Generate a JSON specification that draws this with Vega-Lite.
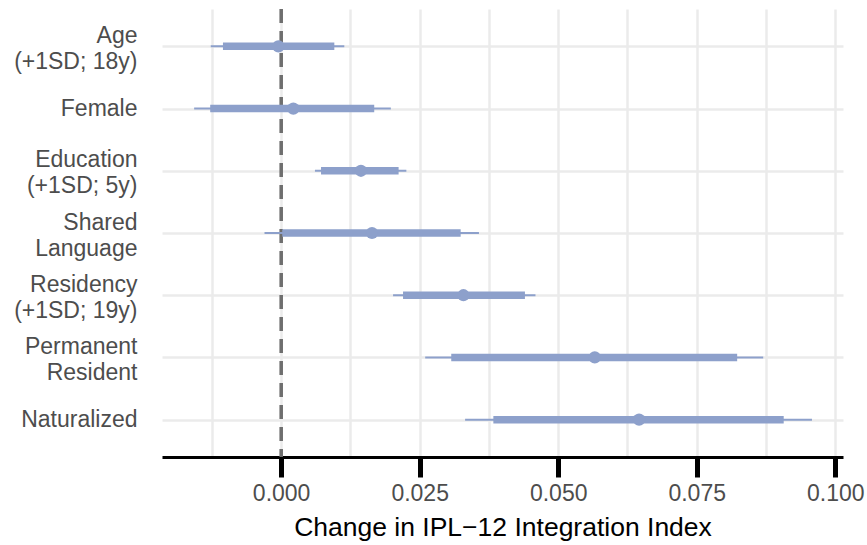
{
  "$schema": "https://vega.github.io/schema/vega-lite/v6.json",
  "width": 681,
  "height": 448,
  "autosize": "none",
  "padding": {"left": 162, "top": 9, "right": 24, "bottom": 88},
  "background": "white",
  "config": {
    "view": {"stroke": null},
    "font": "Liberation Sans"
  },
  "data": {
    "values": [
      {"term": "Age\u00a0|(+1SD; 18y)", "est": -0.0005, "lo95": -0.0127, "hi95": 0.0114, "lo90": -0.0105, "hi90": 0.0096},
      {"term": "Female", "est": 0.0022, "lo95": -0.0157, "hi95": 0.0198, "lo90": -0.0128, "hi90": 0.0168},
      {"term": "Education\u00a0|(+1SD; 5y)", "est": 0.0144, "lo95": 0.0061, "hi95": 0.0226, "lo90": 0.0072, "hi90": 0.0212},
      {"term": "Shared\u00a0|Language", "est": 0.0164, "lo95": -0.0030, "hi95": 0.0357, "lo90": 0.0002, "hi90": 0.0324},
      {"term": "Residency\u00a0|(+1SD; 19y)", "est": 0.0329, "lo95": 0.0202, "hi95": 0.0459, "lo90": 0.0220, "hi90": 0.0440},
      {"term": "Permanent\u00a0|Resident", "est": 0.0566, "lo95": 0.0260, "hi95": 0.0870, "lo90": 0.0307, "hi90": 0.0823},
      {"term": "Naturalized", "est": 0.0646, "lo95": 0.0332, "hi95": 0.0958, "lo90": 0.0383, "hi90": 0.0907}
    ]
  },
  "encoding": {
    "y": {
      "field": "term",
      "type": "nominal",
      "sort": null,
      "scale": {"type": "point", "padding": 0.6},
      "axis": {
        "title": null,
        "domain": false,
        "ticks": false,
        "grid": true,
        "gridColor": "#EBEBEB",
        "gridWidth": 2.5,
        "labelExpr": "split(datum.label, '|')",
        "labelOffset": {"condition": {"test": "indexof(datum.label, '|') >= 0", "value": -11}, "value": 0},
        "labelFont": "Liberation Sans",
        "labelFontSize": 23,
        "labelLineHeight": 26,
        "labelColor": "#4D4D4D",
        "labelPadding": 25,
        "labelAlign": "right",
        "labelBaseline": "middle"
      }
    }
  },
  "layer": [
    {
      "mark": {"type": "rule", "color": "#6E6E6E", "strokeWidth": 2.5, "strokeDash": [14, 8]},
      "encoding": {
        "x": {"datum": 0, "type": "quantitative"},
        "y": null
      }
    },
    {
      "mark": {"type": "rule", "color": "#8DA0CB", "strokeWidth": 2},
      "encoding": {
        "x": {
          "field": "lo95",
          "type": "quantitative",
          "scale": {"domain": [-0.0215, 0.1014], "nice": false, "zero": false},
          "axis": {
            "title": "Change in IPL\u221212 Integration Index",
            "values": [-0.0125, 0, 0.0125, 0.025, 0.0375, 0.05, 0.0625, 0.075, 0.0875, 0.1],
            "labelExpr": "abs(datum.value*40 - round(datum.value*40)) > 0.01 ? '' : format(datum.value, '.3f')",
            "grid": true,
            "gridColor": "#EBEBEB",
            "gridWidth": 2.5,
            "domain": true,
            "domainColor": "#000000",
            "domainWidth": 3,
            "ticks": true,
            "tickColor": "#000000",
            "tickWidth": 5,
            "tickSize": 20,
            "tickOpacity": {"condition": {"test": "abs(datum.value*40 - round(datum.value*40)) > 0.01", "value": 0}, "value": 1},
            "labelFont": "Liberation Sans",
            "labelFontSize": 23,
            "labelColor": "#4D4D4D",
            "labelPadding": 5,
            "titleFont": "Liberation Sans",
            "titleFontSize": 26.5,
            "titleFontWeight": "normal",
            "titleColor": "#000000",
            "titlePadding": 9
          }
        },
        "x2": {"field": "hi95"}
      }
    },
    {
      "mark": {"type": "rule", "color": "#8DA0CB", "strokeWidth": 7.5},
      "encoding": {
        "x": {"field": "lo90", "type": "quantitative"},
        "x2": {"field": "hi90"}
      }
    },
    {
      "mark": {"type": "point", "filled": true, "color": "#8DA0CB", "opacity": 1, "size": 150},
      "encoding": {
        "x": {"field": "est", "type": "quantitative"}
      }
    }
  ]
}
